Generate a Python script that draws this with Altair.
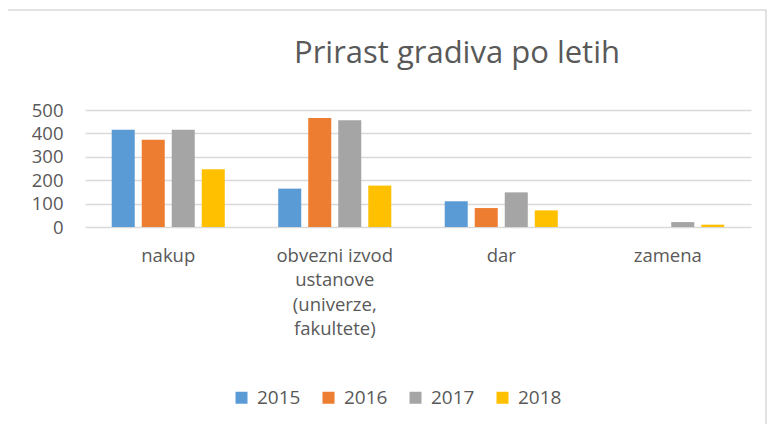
import altair as alt
import pandas as pd

categories = ["nakup", "obvezni izvod ustanove (univerze, fakultete)", "dar", "zamena"]
years = ["2015", "2016", "2017", "2018"]
v2015 = [416, 164, 110, 0]
v2016 = [373, 466, 81, 0]
v2017 = [416, 456, 148, 21]
v2018 = [247, 177, 71, 10]
colors = ["#5B9BD5", "#ED7D31", "#A5A5A5", "#FFC000"]

rows = []
for i, c in enumerate(categories):
    for y, vals in zip(years, [v2015, v2016, v2017, v2018]):
        rows.append({"kategorija": c, "leto": y, "vrednost": vals[i]})
df = pd.DataFrame(rows)

FONT = "Open Sans"
TXT = "#595959"

label_expr = ("datum.value == 'obvezni izvod ustanove (univerze, fakultete)' ? "
              "['obvezni izvod', 'ustanove', '(univerze,', 'fakultete)'] : datum.label")

bars = alt.Chart(df).mark_bar().encode(
    x=alt.X("kategorija:N", sort=categories, title=None,
            scale=alt.Scale(paddingInner=0, paddingOuter=0),
            axis=alt.Axis(labelAngle=0, labelExpr=label_expr, labelFontSize=18.5,
                          labelColor=TXT, labelFont=FONT, labelLineHeight=24.5,
                          ticks=False, domain=False, labelPadding=19, grid=False)),
    xOffset=alt.XOffset("leto:N", sort=years,
                        scale=alt.Scale(paddingInner=0.233, paddingOuter=0.89)),
    y=alt.Y("vrednost:Q", title=None,
            scale=alt.Scale(domain=[0, 500], nice=False),
            axis=alt.Axis(values=[0, 100, 200, 300, 400, 500], labelFontSize=18.5,
                          labelColor=TXT, labelFont=FONT, ticks=False, domain=False,
                          labelPadding=22, gridColor="#d9d9d9", gridWidth=1.5)),
    color=alt.Color("leto:N", sort=years,
                    scale=alt.Scale(domain=years, range=colors),
                    legend=alt.Legend(title=None, orient="none", legendX=147, legendY=278,
                                      direction="horizontal", symbolType="square",
                                      symbolSize=144, symbolStrokeWidth=0,
                                      labelFontSize=19, labelColor=TXT, labelFont=FONT,
                                      labelOffset=6, columnPadding=18)),
)

frame = alt.Chart(pd.DataFrame({"f": [0]})).mark_rect(
    fill=None, stroke="#d9d9d9", strokeWidth=1.5
).encode(
    x=alt.value(-79), x2=alt.value(681), y=alt.value(-100), y2=alt.value(315)
)

chart = alt.layer(frame, bars).properties(
    width=666, height=117,
    title=alt.Title("Prirast gradiva po letih", fontSize=31, font=FONT,
                    fontWeight="normal", color=TXT, anchor="middle", dx=39,
                    baseline="alphabetic", offset=-85),
    autosize=alt.AutoSizeParams(type="none"),
    padding={"left": 77, "top": 102, "right": 16, "bottom": 197},
).configure_view(stroke=None)

chart.save("out.html", embed_options={"renderer": "svg", "actions": False})
